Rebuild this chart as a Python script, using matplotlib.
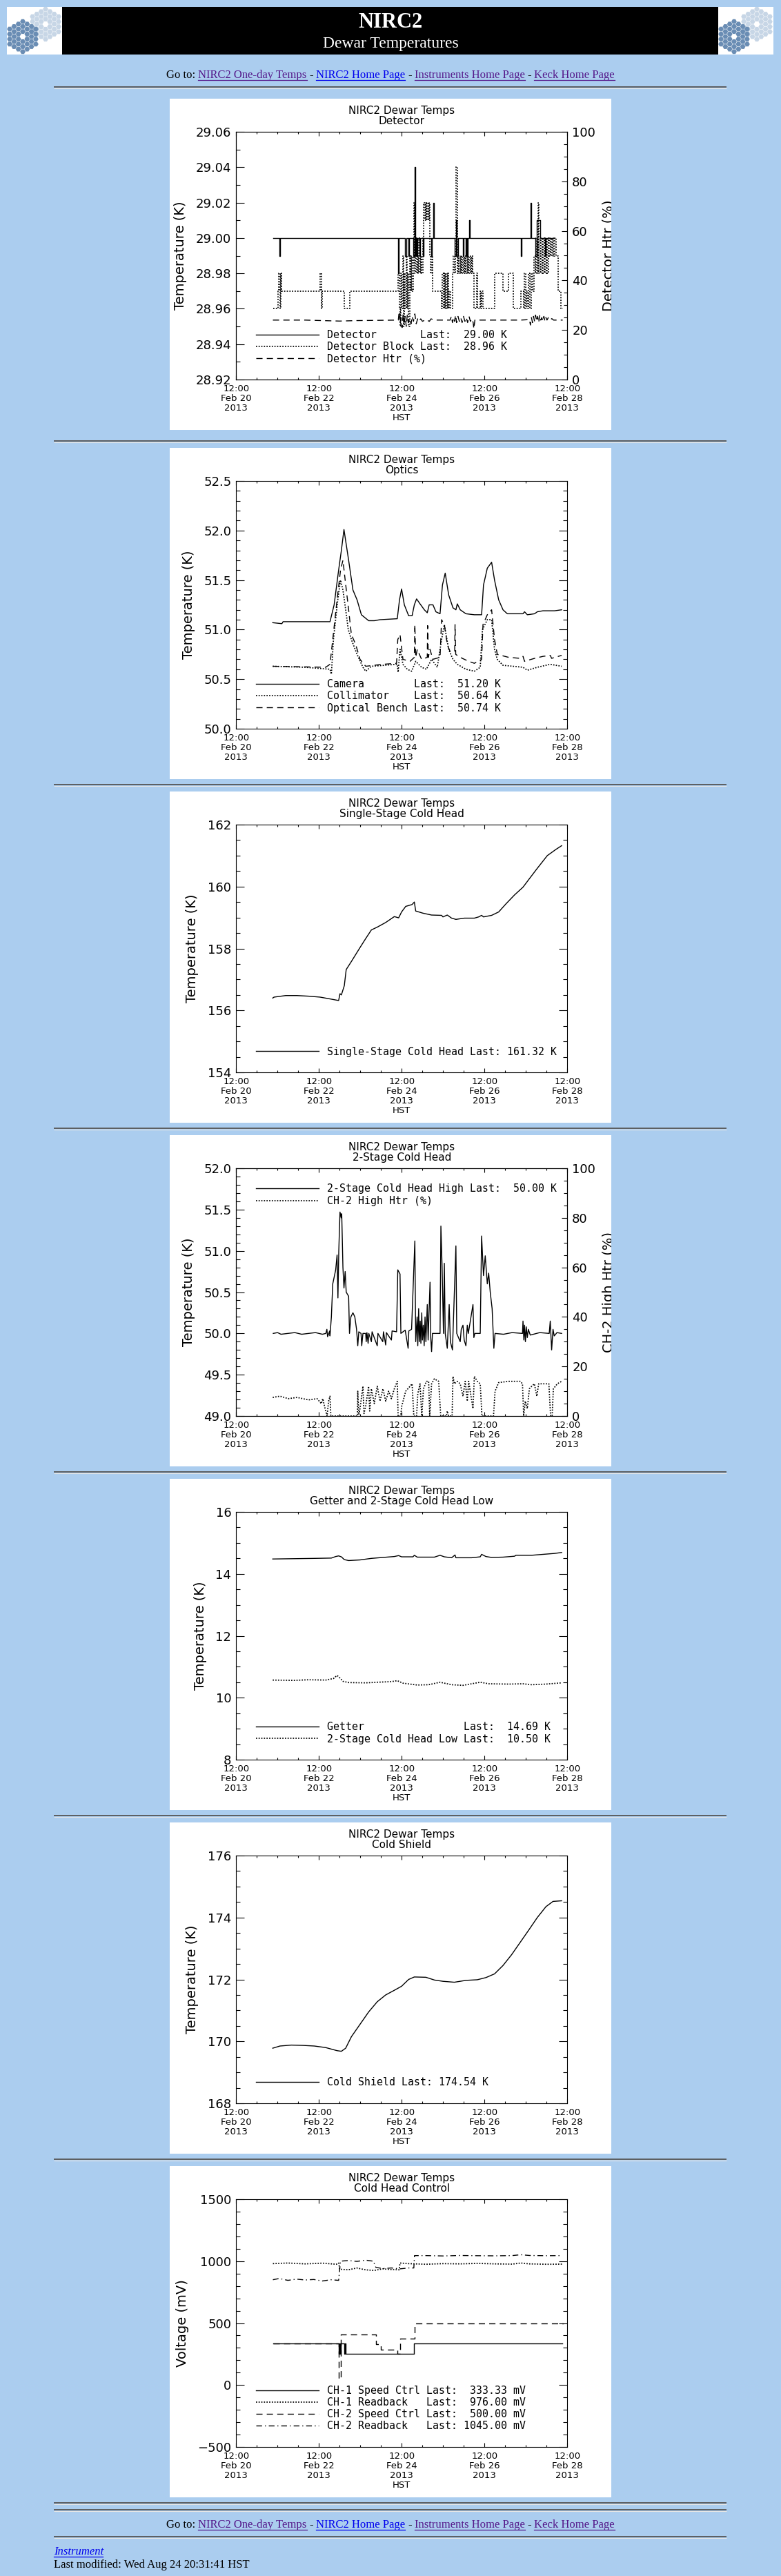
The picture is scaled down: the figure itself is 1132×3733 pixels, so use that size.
import numpy as np
import matplotlib
matplotlib.use('Agg')
import matplotlib.pyplot as plt
import matplotlib.dates as mdates
from matplotlib.patches import Rectangle, RegularPolygon
from matplotlib.ticker import MultipleLocator, FuncFormatter
from matplotlib.font_manager import FontProperties
from matplotlib.transforms import Bbox, TransformedBbox

W, H = 1132, 3733
PAGE_BG = '#abcdef'
VISITED = '#551a8b'
LINK = '#0000ee'
T0 = np.datetime64('2013-02-20T12:00')

# --- data: (hours after 12:00 Feb 20 HST, value) ---------------------------
DETECTOR = [(21.3, 29.00), (25.2, 28.99), (25.6, 29.00), (94.0, 28.98), (94.4, 29.00),
            (98.0, 28.99), (98.6, 29.00), (99.8, 28.99), (100.3, 29.00), (102.8, 28.99),
            (103.3, 29.04), (103.8, 28.99), (104.3, 29.00), (104.5, 28.99), (105.0, 29.00),
            (106.1, 28.99), (106.6, 29.00), (108.1, 28.99), (108.6, 29.00), (113.0, 28.99),
            (113.6, 29.00), (114.3, 29.02), (114.7, 29.00), (126.8, 28.99), (127.5, 29.01),
            (128.0, 28.99), (128.6, 29.00), (131.3, 28.99), (131.8, 29.00), (133.0, 28.99),
            (133.4, 29.00), (133.8, 28.99), (134.2, 29.00), (135.1, 29.01), (135.5, 29.00),
            (165.0, 28.99), (165.4, 29.00), (170.8, 29.02), (171.2, 29.00), (173.6, 28.99),
            (174.2, 29.01), (176.4, 29.00), (179.2, 28.99), (179.6, 29.00), (184.6, 29.00)]

DET_BLOCK = [(21.3, 28.96), (24.3, 28.97), (24.8, 28.98), (25.3, 28.96), (25.8, 28.98),
             (26.3, 28.97), (48.8, 28.98), (49.4, 28.96), (49.9, 28.97), (62.5, 28.96),
             (65.8, 28.97), (94.0, 28.98), (94.5, 28.96), (95.0, 28.95), (95.5, 28.98),
             (96.0, 28.96), (96.5, 28.99), (97.0, 28.95), (97.5, 28.98), (98.0, 28.96),
             (98.5, 28.99), (99.0, 28.96), (99.5, 28.98), (100.0, 28.95), (100.5, 28.99),
             (101.0, 28.97), (101.5, 28.99), (102.0, 28.97), (102.5, 28.99), (103.0, 29.02),
             (103.4, 28.98), (104.0, 29.00), (104.5, 28.98), (105.0, 28.99), (105.5, 28.98),
             (106.0, 29.00), (106.5, 28.98), (107.0, 28.99), (107.5, 28.98), (108.2, 29.00),
             (108.8, 29.02), (109.3, 29.01), (109.8, 29.02), (110.3, 29.01), (110.8, 29.02),
             (111.3, 29.01), (111.8, 29.02), (112.3, 28.99), (112.8, 28.98), (113.3, 28.99),
             (113.8, 28.97), (119.0, 28.96), (119.6, 28.98), (120.1, 28.96), (120.6, 28.98),
             (121.1, 28.96), (121.6, 28.98), (122.1, 28.96), (122.6, 28.98), (123.1, 28.96),
             (123.6, 28.97), (124.1, 28.96), (125.5, 28.98), (126.0, 28.99), (126.5, 28.98),
             (127.0, 28.99), (127.6, 29.04), (128.2, 28.98), (128.7, 28.99), (129.2, 28.98),
             (129.7, 28.99), (130.2, 28.98), (130.7, 28.99), (131.2, 28.98), (131.7, 28.99),
             (132.2, 28.98), (132.7, 28.99), (133.2, 28.98), (133.7, 28.99), (134.2, 28.98),
             (134.7, 28.99), (135.2, 28.98), (135.7, 28.99), (136.2, 28.98), (136.7, 28.99),
             (137.2, 28.98), (137.8, 28.96), (139.4, 28.98), (139.9, 28.96), (141.4, 28.97),
             (141.9, 28.96), (142.4, 28.97), (142.9, 28.96), (149.8, 28.98), (154.6, 28.97),
             (157.8, 28.98), (160.6, 28.96), (165.0, 28.97), (166.6, 28.96), (167.2, 28.98),
             (167.8, 28.96), (168.4, 28.97), (169.0, 28.96), (169.6, 28.98), (170.2, 28.96),
             (171.2, 28.98), (172.0, 28.97), (172.8, 28.99), (173.4, 28.98), (174.0, 29.00),
             (174.6, 28.98), (175.2, 29.02), (175.6, 28.98), (176.2, 29.00), (176.8, 28.98),
             (177.4, 29.00), (178.0, 28.98), (178.6, 29.00), (179.2, 28.98), (179.8, 29.00),
             (180.4, 28.98), (181.0, 29.00), (181.6, 28.99), (182.2, 29.00), (182.8, 28.99),
             (183.4, 29.00), (184.0, 28.99), (184.6, 29.00), (185.4, 28.99), (186.5, 28.97),
             (188.4, 28.96), (189.3, 28.96)]

DET_HTR = [(21.3, 24.0), (40.0, 24.0), (60.0, 23.6), (70.0, 23.8), (94.0, 24.0), (94.5, 27.5),
           (95.0, 23.0), (95.6, 25.0), (96.2, 21.0), (96.8, 26.5), (97.4, 22.0), (98.0, 25.5),
           (98.6, 21.5), (99.2, 26.0), (99.8, 23.0), (100.6, 24.5), (101.4, 22.5), (102.0, 25.5),
           (102.8, 23.5), (103.6, 26.5), (104.4, 22.5), (105.2, 24.5), (106.0, 23.5), (107.0, 24.5),
           (108.0, 23.5), (110.0, 24.2), (112.0, 23.5), (113.0, 24.5), (115.0, 24.0), (124.0, 24.0),
           (124.8, 25.5), (125.4, 23.0), (126.0, 25.0), (126.6, 23.5), (127.2, 26.0), (127.8, 23.0),
           (128.6, 25.5), (129.4, 23.5), (130.2, 25.0), (131.0, 23.0), (131.8, 25.5), (132.6, 23.5),
           (133.4, 25.0), (134.2, 23.0), (135.0, 25.5), (135.8, 23.5), (136.6, 24.5), (137.4, 23.0),
           (137.8, 20.5), (138.4, 24.0), (165.0, 24.0), (170.0, 24.2), (170.6, 22.0), (171.2, 25.0),
           (171.8, 23.0), (172.4, 25.5), (173.0, 23.5), (173.6, 26.0), (174.2, 23.5), (174.8, 25.5),
           (175.4, 23.0), (176.0, 26.0), (176.6, 24.0), (177.2, 25.0), (177.8, 23.5), (178.4, 25.5),
           (179.0, 23.5), (179.6, 25.0), (180.2, 24.0), (181.0, 25.0), (182.0, 24.0), (183.0, 24.6),
           (184.0, 24.0), (189.3, 24.0)]

CAMERA = [(21.2, 51.07), (26.5, 51.06), (27.2, 51.08), (54.4, 51.08), (56.8, 51.25), (59.4, 51.6),
          (61.0, 51.8), (62.5, 52.01), (65.2, 51.7), (67.7, 51.4), (70.1, 51.3), (72.6, 51.15),
          (76.8, 51.09), (80.1, 51.09), (83.4, 51.10), (93.4, 51.11), (94.7, 51.3), (95.9, 51.41),
          (97.5, 51.25), (100.0, 51.14), (102.0, 51.14), (103.3, 51.25), (104.6, 51.31),
          (106.6, 51.26), (109.1, 51.2), (110.8, 51.17), (111.9, 51.25), (114.1, 51.25),
          (115.8, 51.18), (118.2, 51.16), (119.6, 51.45), (121.2, 51.57), (123.2, 51.35),
          (125.7, 51.22), (127.4, 51.2), (128.2, 51.26), (129.9, 51.2), (133.2, 51.16),
          (138.1, 51.15), (142.3, 51.15), (143.4, 51.45), (145.6, 51.62), (148.1, 51.68),
          (149.8, 51.5), (152.2, 51.3), (154.7, 51.2), (157.2, 51.16), (166.3, 51.16),
          (167.2, 51.18), (168.8, 51.15), (173.0, 51.16), (174.6, 51.18), (177.9, 51.19),
          (184.6, 51.19), (188.7, 51.20)]

COLLIMATOR = [(21.2, 50.63), (40.0, 50.62), (54.4, 50.60), (55.2, 50.55), (56.4, 50.9), (58.9, 51.3),
              (60.5, 51.5), (61.9, 51.4), (63.5, 51.2), (65.0, 51.0), (66.8, 50.9), (70.1, 50.75),
              (73.5, 50.62), (75.1, 50.58), (78.4, 50.63), (93.4, 50.65), (93.9, 50.57), (95.0, 50.8),
              (96.7, 50.65), (99.2, 50.6), (101.7, 50.58), (104.1, 50.68), (107.5, 50.62),
              (110.3, 50.6), (113.3, 50.7), (116.6, 50.62), (119.1, 50.9), (120.7, 51.05),
              (123.2, 50.8), (125.7, 50.7), (128.2, 50.65), (133.2, 50.6), (138.1, 50.58),
              (141.5, 50.62), (142.8, 51.0), (145.6, 51.1), (148.1, 51.1), (149.8, 50.8),
              (151.4, 50.7), (154.7, 50.64), (166.3, 50.62), (168.8, 50.59), (174.6, 50.62),
              (182.1, 50.65), (188.7, 50.63)]

BENCH = [(21.2, 50.63), (51.9, 50.62), (54.4, 50.65), (56.0, 50.9), (58.5, 51.3), (60.5, 51.6),
         (61.9, 51.7), (63.2, 51.5), (65.2, 51.2), (66.8, 50.95), (69.3, 50.85), (71.8, 50.7),
         (75.1, 50.63), (85.0, 50.65), (93.0, 50.66), (93.7, 50.9), (95.0, 50.95), (96.7, 50.7),
         (100.8, 50.68), (103.3, 50.72), (103.6, 51.05), (104.1, 50.72), (105.0, 50.8),
         (107.5, 50.7), (110.8, 50.72), (111.0, 51.04), (111.4, 50.72), (112.4, 50.8),
         (114.0, 50.7), (118.2, 50.72), (119.1, 51.1), (120.7, 51.05), (122.4, 50.85),
         (124.0, 50.78), (126.7, 50.78), (126.9, 51.05), (127.3, 50.75), (129.9, 50.72),
         (134.8, 50.68), (138.1, 50.66), (142.3, 50.7), (143.1, 51.05), (145.6, 51.15),
         (148.1, 51.2), (149.8, 50.9), (151.4, 50.75), (158.0, 50.72), (164.7, 50.71),
         (166.3, 50.73), (167.2, 50.68), (173.0, 50.71), (177.9, 50.73), (182.1, 50.74),
         (182.9, 50.71), (188.7, 50.74)]

SINGLE_STAGE = [(21.2, 156.40), (22.0, 156.43), (28.7, 156.48), (35.3, 156.48), (42.0, 156.46),
                (48.6, 156.43), (53.6, 156.38), (59.4, 156.32), (60.2, 156.54), (61.0, 156.5),
                (62.7, 156.8), (63.8, 157.32), (66.8, 157.58), (71.8, 158.03), (75.1, 158.32),
                (78.4, 158.6), (81.8, 158.69), (86.7, 158.84), (91.7, 159.03), (94.2, 158.99),
                (95.9, 159.18), (98.3, 159.36), (100.8, 159.4), (102.0, 159.42), (103.3, 159.5),
                (104.1, 159.21), (108.3, 159.14), (113.3, 159.08), (119.1, 159.07), (119.9, 159.02),
                (122.4, 159.08), (124.9, 158.98), (127.4, 158.94), (132.3, 158.98), (138.1, 158.98),
                (140.6, 159.02), (142.3, 159.07), (143.4, 159.02), (148.1, 159.07), (152.2, 159.18),
                (156.4, 159.44), (161.4, 159.73), (166.3, 159.98), (170.5, 160.29), (174.6, 160.59),
                (180.4, 161.0), (185.4, 161.2), (188.7, 161.32)]

CH_HIGH = [(21.5, 50.00), (24.0, 50.01), (26.0, 49.99), (30.0, 50.00), (34.0, 50.01), (38.0, 49.99),
           (42.0, 50.00), (46.0, 50.01), (50.0, 49.99), (52.0, 50.00), (52.6, 50.05), (53.0, 49.96),
           (54.2, 50.03), (54.4, 49.97), (55.2, 50.2), (56.0, 50.6), (57.7, 50.77), (58.5, 50.95),
           (59.0, 50.43), (59.5, 51.0), (60.2, 51.47), (60.9, 51.4), (61.2, 51.45), (61.9, 50.8),
           (62.5, 50.55), (63.2, 50.75), (63.8, 50.5), (65.2, 50.45), (65.7, 50.0), (66.5, 50.2),
           (67.7, 50.25), (68.8, 50.2), (69.8, 50.05), (70.5, 49.85), (71.1, 50.02), (72.4, 50.0),
           (72.8, 49.85), (73.5, 50.0), (75.1, 50.0), (75.4, 49.9), (75.8, 50.01), (76.5, 49.88),
           (76.9, 50.0), (78.4, 49.9), (78.8, 50.02), (81.8, 49.85), (82.2, 50.0), (85.0, 49.9),
           (85.4, 50.02), (86.7, 49.86), (87.1, 50.01), (90.0, 49.92), (90.4, 50.03), (93.0, 50.02),
           (93.7, 50.77), (95.0, 50.72), (95.5, 50.0), (98.0, 50.04), (99.7, 49.82), (100.1, 50.03),
           (101.7, 50.05), (103.6, 51.12), (104.1, 49.9), (104.9, 50.2), (105.3, 49.85),
           (105.8, 50.3), (106.2, 49.9), (106.7, 50.15), (107.1, 49.88), (107.6, 50.25),
           (108.0, 49.92), (108.5, 50.1), (109.0, 49.85), (109.5, 50.2), (110.0, 49.9),
           (110.8, 50.35), (111.3, 49.92), (112.4, 50.62), (112.8, 49.95), (113.3, 49.78),
           (113.8, 50.0), (118.2, 50.0), (118.7, 51.3), (119.4, 50.8), (120.2, 50.0), (120.7, 50.85),
           (121.2, 50.0), (122.4, 49.82), (123.5, 50.35), (124.2, 49.9), (125.4, 49.8),
           (126.2, 50.3), (127.4, 51.06), (127.9, 50.0), (129.9, 49.9), (130.5, 50.05),
           (131.5, 50.1), (132.2, 49.92), (133.2, 49.85), (134.0, 50.1), (134.6, 50.0),
           (137.3, 50.35), (137.8, 49.95), (138.4, 50.0), (141.5, 50.0), (142.3, 51.18),
           (143.4, 50.7), (144.4, 50.94), (145.6, 50.6), (146.4, 50.73), (147.3, 50.5),
           (148.4, 50.3), (149.4, 49.82), (150.1, 50.0), (155.0, 49.99), (160.0, 50.01),
           (166.0, 50.0), (166.3, 50.15), (166.8, 49.92), (167.2, 50.1), (167.7, 49.9),
           (168.2, 50.08), (168.8, 49.95), (169.4, 50.05), (170.5, 49.98), (176.0, 50.01),
           (181.5, 50.0), (182.1, 50.15), (182.9, 49.8), (183.7, 50.05), (184.4, 49.97),
           (186.0, 50.01), (188.7, 50.0)]

CH_HIGH_HTR = [(21.2, 7.5), (25.4, 8.0), (30.3, 7.0), (35.3, 7.5), (42.0, 6.5), (46.9, 7.0),
               (49.4, 5.0), (50.2, 7.0), (51.9, 2.0), (52.7, 0.0), (53.6, 6.0), (54.4, 8.0),
               (54.9, 0.0), (70.3, 0.0), (70.5, 10.0), (71.1, 0.5), (71.8, 3.0), (73.5, 12.0),
               (74.1, 1.0), (75.1, 4.0), (76.8, 12.0), (77.4, 2.0), (78.4, 11.0), (80.1, 5.0),
               (81.8, 12.0), (83.4, 6.0), (85.1, 11.0), (86.7, 6.0), (88.4, 10.0), (90.0, 7.0),
               (91.7, 11.0), (93.4, 14.0), (93.9, 0.0), (95.4, 0.0), (96.0, 4.0), (98.3, 10.0),
               (100.8, 12.0), (102.0, 13.0), (103.0, 0.0), (104.6, 0.0), (105.3, 9.0), (106.6, 13.0),
               (107.6, 0.0), (108.6, 11.0), (110.3, 14.0), (111.6, 14.0), (112.2, 0.0), (113.3, 13.0),
               (114.9, 15.0), (117.4, 14.0), (118.6, 0.0), (121.9, 0.0), (122.4, 2.0), (123.2, 0.0),
               (125.2, 0.0), (125.7, 16.0), (126.5, 13.0), (128.2, 14.0), (129.9, 13.0), (131.5, 8.0),
               (132.8, 14.0), (134.0, 6.0), (134.8, 14.0), (137.3, 3.0), (138.1, 16.0), (139.8, 14.0),
               (141.5, 13.0), (142.5, 0.0), (149.2, 0.0), (150.1, 10.0), (152.2, 13.5), (158.0, 14.0),
               (164.7, 14.0), (166.0, 13.0), (166.7, 0.0), (167.6, 6.0), (168.8, 3.0), (170.0, 11.0),
               (171.3, 12.0), (172.9, 13.0), (174.3, 8.0), (175.4, 13.0), (177.9, 13.0), (181.3, 13.0),
               (182.3, 0.0), (183.2, 0.0), (183.9, 11.0), (186.2, 13.0), (188.7, 14.0)]

GETTER = [(21.2, 14.48), (33.7, 14.49), (45.3, 14.5), (55.2, 14.51), (57.7, 14.56), (59.4, 14.58),
          (61.0, 14.55), (62.7, 14.46), (65.2, 14.43), (71.8, 14.45), (78.4, 14.5), (85.1, 14.53),
          (91.7, 14.56), (94.2, 14.59), (95.9, 14.55), (102.5, 14.55), (103.3, 14.6), (105.0, 14.54),
          (114.9, 14.54), (118.2, 14.6), (120.7, 14.55), (124.9, 14.52), (126.9, 14.61),
          (127.4, 14.52), (136.5, 14.52), (141.5, 14.55), (142.3, 14.63), (144.8, 14.56),
          (148.1, 14.53), (154.7, 14.54), (161.4, 14.57), (162.2, 14.6), (171.3, 14.6),
          (177.9, 14.63), (184.6, 14.66), (188.7, 14.69)]

CH_LOW = [(21.2, 10.57), (33.7, 10.56), (42.0, 10.58), (51.9, 10.57), (56.4, 10.62), (58.5, 10.72),
          (60.5, 10.62), (61.9, 10.53), (65.2, 10.49), (75.1, 10.48), (81.8, 10.5), (90.0, 10.52),
          (93.4, 10.55), (96.7, 10.47), (105.0, 10.41), (111.6, 10.42), (118.2, 10.5),
          (124.9, 10.42), (131.5, 10.4), (136.5, 10.45), (141.5, 10.5), (146.5, 10.45),
          (158.0, 10.44), (166.3, 10.45), (171.3, 10.42), (179.6, 10.44), (188.7, 10.48)]

COLD_SHIELD = [(21.2, 169.78), (25.4, 169.85), (32.0, 169.88), (38.6, 169.87), (45.3, 169.85),
               (51.9, 169.8), (58.5, 169.7), (61.0, 169.68), (63.5, 169.78), (66.8, 170.15),
               (71.8, 170.55), (76.8, 170.95), (81.8, 171.28), (86.7, 171.5), (91.7, 171.65),
               (95.9, 171.78), (100.0, 172.0), (103.3, 172.08), (110.0, 172.07), (115.0, 171.98),
               (119.9, 171.94), (126.5, 171.91), (133.2, 171.97), (139.8, 171.99), (144.8, 172.06),
               (149.8, 172.18), (154.7, 172.45), (159.7, 172.8), (164.7, 173.2), (169.7, 173.6),
               (174.6, 174.0), (179.6, 174.35), (183.7, 174.52), (188.7, 174.54)]

CH1_SPEED = [(21.3, 333.33), (59.4, 250.0), (59.8, 333.33), (60.2, 250.0), (60.6, 333.33),
             (62.8, 250.0), (63.2, 333.33), (63.6, 250.0), (103.2, 333.33), (188.9, 333.33)]
CH1_READBACK = [(21.3, 980), (30.0, 985), (40.0, 978), (50.0, 984), (58.0, 975), (59.5, 985),
                (60.0, 935), (65.0, 930), (70.0, 945), (75.0, 930), (80.0, 925), (85.0, 938),
                (90.0, 932), (94.5, 930), (95.0, 985), (100.0, 980), (110.0, 975), (120.0, 980),
                (130.0, 978), (140.0, 982), (150.0, 978), (160.0, 976), (165.0, 985), (170.0, 978),
                (180.0, 975), (188.9, 976)]
CH2_SPEED = [(21.3, 333.33), (59.4, 50.0), (60.8, 410.0), (81.0, 330.0), (83.8, 283.0),
             (93.4, 250.0), (94.9, 372.0), (103.3, 500.0), (190.0, 500.0)]
CH2_READBACK = [(21.3, 850), (25.0, 860), (30.0, 845), (35.0, 855), (40.0, 848), (45.0, 852),
                (50.0, 840), (55.0, 850), (59.4, 845), (60.5, 1000), (65.0, 1005), (70.0, 998),
                (75.0, 1008), (79.5, 1000), (81.0, 950), (85.0, 940), (90.0, 945), (95.0, 938),
                (100.0, 945), (103.0, 945), (103.4, 1045), (110.0, 1045), (120.0, 1042),
                (130.0, 1046), (140.0, 1044), (150.0, 1043), (160.0, 1045), (165.0, 1052),
                (170.0, 1046), (180.0, 1044), (188.9, 1045)]

SUBTITLES = ['Detector', 'Optics', 'Single-Stage Cold Head', '2-Stage Cold Head',
             'Getter and 2-Stage Cold Head Low', 'Cold Shield', 'Cold Head Control']
PANEL_TOPS = [143, 649, 1147, 1645, 2143, 2641, 3139]
HR_LINES = [126, 639, 1137, 1635, 2133, 2631, 3129, 3627, 3637, 3676]

SOLID = '-'
DOTTED = (0, (1, 1.2))
DASHED = (0, (6.5, 4.4))
DASHDOT = (0, (6, 3, 1, 3))

fig = plt.figure(figsize=(W / 100, H / 100), dpi=100, facecolor=PAGE_BG)
page = fig.add_axes([0, 0, 1, 1])
page.set_xlim(0, W)
page.set_ylim(H, 0)
page.axis('off')


def to_time(hours):
    minutes = np.round(np.asarray(hours, dtype=float) * 60).astype(int)
    return T0 + minutes.astype('timedelta64[m]')


def series(pairs):
    arr = np.array(pairs, dtype=float)
    return to_time(arr[:, 0]), arr[:, 1]


def hr(y):
    page.plot([78, 1053], [y, y], color='#555555', lw=1.3, solid_capstyle='butt')
    page.plot([78, 1053], [y + 1.6, y + 1.6], color='#e6e6e6', lw=0.8, solid_capstyle='butt')


def draw_mirror(cx, cy, color, clip):
    s = 4.2
    for q in range(-3, 4):
        for r in range(-3, 4):
            d = max(abs(q), abs(r), abs(q + r))
            if d == 0 or d > 3:
                continue
            x = cx + 1.5 * s * q
            y = cy + np.sqrt(3) * s * (r + q / 2)
            hexp = RegularPolygon((x, y), 6, radius=3.9, orientation=np.pi / 6,
                                  facecolor=color, edgecolor='none')
            page.add_patch(hexp)
            hexp.set_clip_path(clip)


def logo(x0):
    box = Rectangle((x0, 10), 80, 69, facecolor='white', edgecolor='none')
    page.add_patch(box)
    draw_mirror(x0 + 56, 35, '#c7d6e6', box)
    draw_mirror(x0 + 23, 53, '#6a8db4', box)


def link_line(y, pieces):
    renderer = fig.canvas.get_renderer()
    items = []
    for s, color, is_link in pieces:
        t = page.text(0, y, s, family='Liberation Serif', size=12, color=color,
                      ha='left', va='baseline')
        items.append((t, is_link, color))
    widths = [t.get_window_extent(renderer).width for t, _, _ in items]
    gap = 4.0
    x = W / 2 - (sum(widths) + gap * (len(widths) - 1)) / 2
    for (t, is_link, color), w in zip(items, widths):
        t.set_x(x)
        if is_link:
            page.plot([x, x + w], [y + 2.5, y + 2.5], color=color, lw=0.9)
        x += w + gap


GOTO = [('Go to:', 'black', False), ('NIRC2 One-day Temps', VISITED, True), ('-', 'black', False),
        ('NIRC2 Home Page', LINK, True), ('-', 'black', False),
        ('Instruments Home Page', VISITED, True), ('-', 'black', False),
        ('Keck Home Page', VISITED, True)]

# --- page header -------------------------------------------------------------
page.add_patch(Rectangle((90, 10), 951, 69, facecolor='black', edgecolor='none'))
logo(10)
logo(1041)
page.text(566, 33, 'NIRC2', family='Liberation Serif', weight='bold', size=22,
          color='white', ha='center', va='center')
page.text(566, 63, 'Dewar Temperatures', family='Liberation Serif', size=17,
          color='white', ha='center', va='center')
link_line(113, GOTO)
for y in HR_LINES:
    hr(y)
link_line(3663, GOTO)
page.text(78, 3702, 'Instrument', family='Liberation Serif', style='italic', size=12,
          color=LINK, ha='left', va='baseline')
page.plot([78, 149], [3704.5, 3704.5], color=LINK, lw=0.9)
page.text(78, 3721, 'Last modified: Wed Aug 24 20:31:41 HST', family='Liberation Serif',
          size=12, color='black', ha='left', va='baseline')

LEG_FONT = FontProperties(family='DejaVu Sans Mono', size=10.7)


def make_panel(idx, ylabel, ylim, major, minor, fmt):
    top = PANEL_TOPS[idx]
    page.add_patch(Rectangle((246, top), 640, 480, facecolor='white', edgecolor='none'))
    ax = fig.add_axes([342.3 / W, 1 - (top + 48 + 359) / H, 480 / W, 359 / H])
    ax.set_zorder(2)
    ax.set_xlim(T0, to_time(192)[()])
    ax.set_ylim(*ylim)
    ax.set_xticks(to_time([0, 48, 96, 144, 192]))
    ax.set_xticks(to_time(np.arange(0, 193, 12)), minor=True)
    ax.xaxis.set_major_formatter(mdates.DateFormatter('%H:%M\n%b %d\n%Y'))
    ax.yaxis.set_major_locator(MultipleLocator(major))
    ax.yaxis.set_minor_locator(MultipleLocator(minor))
    ax.yaxis.set_major_formatter(FuncFormatter(lambda v, p: (fmt % v).replace('-', '\u2212')))
    ax.tick_params(which='both', direction='in', top=True, right=True, width=0.8, color='black')
    ax.tick_params(axis='y', which='major', length=8.3, labelsize=13, pad=5)
    ax.tick_params(axis='y', which='minor', length=4.0)
    ax.tick_params(axis='x', which='major', length=4.0, labelsize=9.5, pad=5)
    ax.tick_params(axis='x', which='minor', length=2.4)
    for lab in ax.get_xticklabels():
        lab.set_linespacing(1.1)
    for sp in ax.spines.values():
        sp.set_linewidth(0.8)
    ax.set_xlabel('HST', fontsize=9.5, labelpad=1)
    ax.set_ylabel(ylabel, fontsize=14, labelpad=9)
    ax.annotate('NIRC2 Dewar Temps', xy=(0.5, 1), xycoords='axes fraction', xytext=(0, 21.8),
                textcoords='offset points', ha='center', va='center', fontsize=11)
    ax.annotate(SUBTITLES[idx], xy=(0.5, 1), xycoords='axes fraction', xytext=(0, 11.5),
                textcoords='offset points', ha='center', va='center', fontsize=11)
    return ax, top


def right_axis(ax, top, label):
    ax2 = ax.twinx()
    ax2.set_ylim(0, 100)
    ax2.yaxis.set_major_locator(MultipleLocator(20))
    ax2.yaxis.set_minor_locator(MultipleLocator(5))
    ax2.tick_params(which='both', direction='in', width=0.8)
    ax2.tick_params(axis='y', which='major', length=5.8, labelsize=13, pad=5)
    ax2.tick_params(axis='y', which='minor', length=3.6)
    ax2.set_ylabel(label, fontsize=14, labelpad=7)
    clip = TransformedBbox(Bbox.from_extents(246 / W, 1 - (top + 480) / H, 886 / W, 1 - top / H),
                           fig.transFigure)
    ax2.yaxis.label.set_clip_box(clip)
    ax2.yaxis.label.set_clip_on(True)
    return ax2


def line(ax, pairs, ls, steps=False):
    t, v = series(pairs)
    lw = 1.25 if ls == DOTTED else 1.0
    ln, = ax.plot(t, v, color='black', lw=lw, ls=ls,
                  drawstyle='steps-post' if steps else 'default')
    return ln


def legend(ax, handles, labels, upper=False):
    if upper:
        loc, anchor = 'upper left', (0.06, 1 - 22.5 / 359)
    else:
        loc, anchor = 'lower left', (0.06, 22.5 / 359)
    leg = ax.legend(handles, labels, loc=loc, bbox_to_anchor=anchor, prop=LEG_FONT,
                    frameon=False, handlelength=6.1, handletextpad=0.8, labelspacing=0.15,
                    borderpad=0, borderaxespad=0)
    return leg


# panel 1: detector
ax, top = make_panel(0, 'Temperature (K)', (28.92, 29.06), 0.02, 0.01, '%.2f')
ax2 = right_axis(ax, top, 'Detector Htr (%)')
h1 = line(ax, DETECTOR, SOLID, steps=True)
h2 = line(ax, DET_BLOCK, DOTTED, steps=True)
h3 = line(ax2, DET_HTR, DASHED)
legend(ax2, [h1, h2, h3], ['Detector       Last:  29.00 K', 'Detector Block Last:  28.96 K',
                           'Detector Htr (%)'])

# panel 2: optics
ax, top = make_panel(1, 'Temperature (K)', (50.0, 52.5), 0.5, 0.1, '%.1f')
h1 = line(ax, CAMERA, SOLID)
h2 = line(ax, COLLIMATOR, DOTTED)
h3 = line(ax, BENCH, DASHED)
legend(ax, [h1, h2, h3], ['Camera        Last:  51.20 K', 'Collimator    Last:  50.64 K',
                          'Optical Bench Last:  50.74 K'])

# panel 3: single-stage cold head
ax, top = make_panel(2, 'Temperature (K)', (154, 162), 2, 0.5, '%d')
h1 = line(ax, SINGLE_STAGE, SOLID)
legend(ax, [h1], ['Single-Stage Cold Head Last: 161.32 K'])

# panel 4: 2-stage cold head
ax, top = make_panel(3, 'Temperature (K)', (49.0, 52.0), 0.5, 0.1, '%.1f')
ax2 = right_axis(ax, top, 'CH-2 High Htr (%)')
h1 = line(ax, CH_HIGH, SOLID)
h2 = line(ax2, CH_HIGH_HTR, DOTTED)
legend(ax2, [h1, h2], ['2-Stage Cold Head High Last:  50.00 K', 'CH-2 High Htr (%)'], upper=True)

# panel 5: getter and 2-stage low
ax, top = make_panel(4, 'Temperature (K)', (8, 16), 2, 0.5, '%d')
h1 = line(ax, GETTER, SOLID)
h2 = line(ax, CH_LOW, DOTTED)
legend(ax, [h1, h2], ['Getter                Last:  14.69 K',
                      '2-Stage Cold Head Low Last:  10.50 K'])

# panel 6: cold shield
ax, top = make_panel(5, 'Temperature (K)', (168, 176), 2, 0.5, '%d')
h1 = line(ax, COLD_SHIELD, SOLID)
legend(ax, [h1], ['Cold Shield Last: 174.54 K'])

# panel 7: cold head control
ax, top = make_panel(6, 'Voltage (mV)', (-500, 1500), 500, 100, '%d')
h1 = line(ax, CH1_SPEED, SOLID, steps=True)
h2 = line(ax, CH1_READBACK, DOTTED)
h3 = line(ax, CH2_SPEED, DASHED, steps=True)
h4 = line(ax, CH2_READBACK, DASHDOT)
legend(ax, [h1, h2, h3, h4], ['CH-1 Speed Ctrl Last:  333.33 mV', 'CH-1 Readback   Last:  976.00 mV',
                              'CH-2 Speed Ctrl Last:  500.00 mV', 'CH-2 Readback   Last: 1045.00 mV'])

fig.savefig('out.png', dpi=100, facecolor=PAGE_BG)
